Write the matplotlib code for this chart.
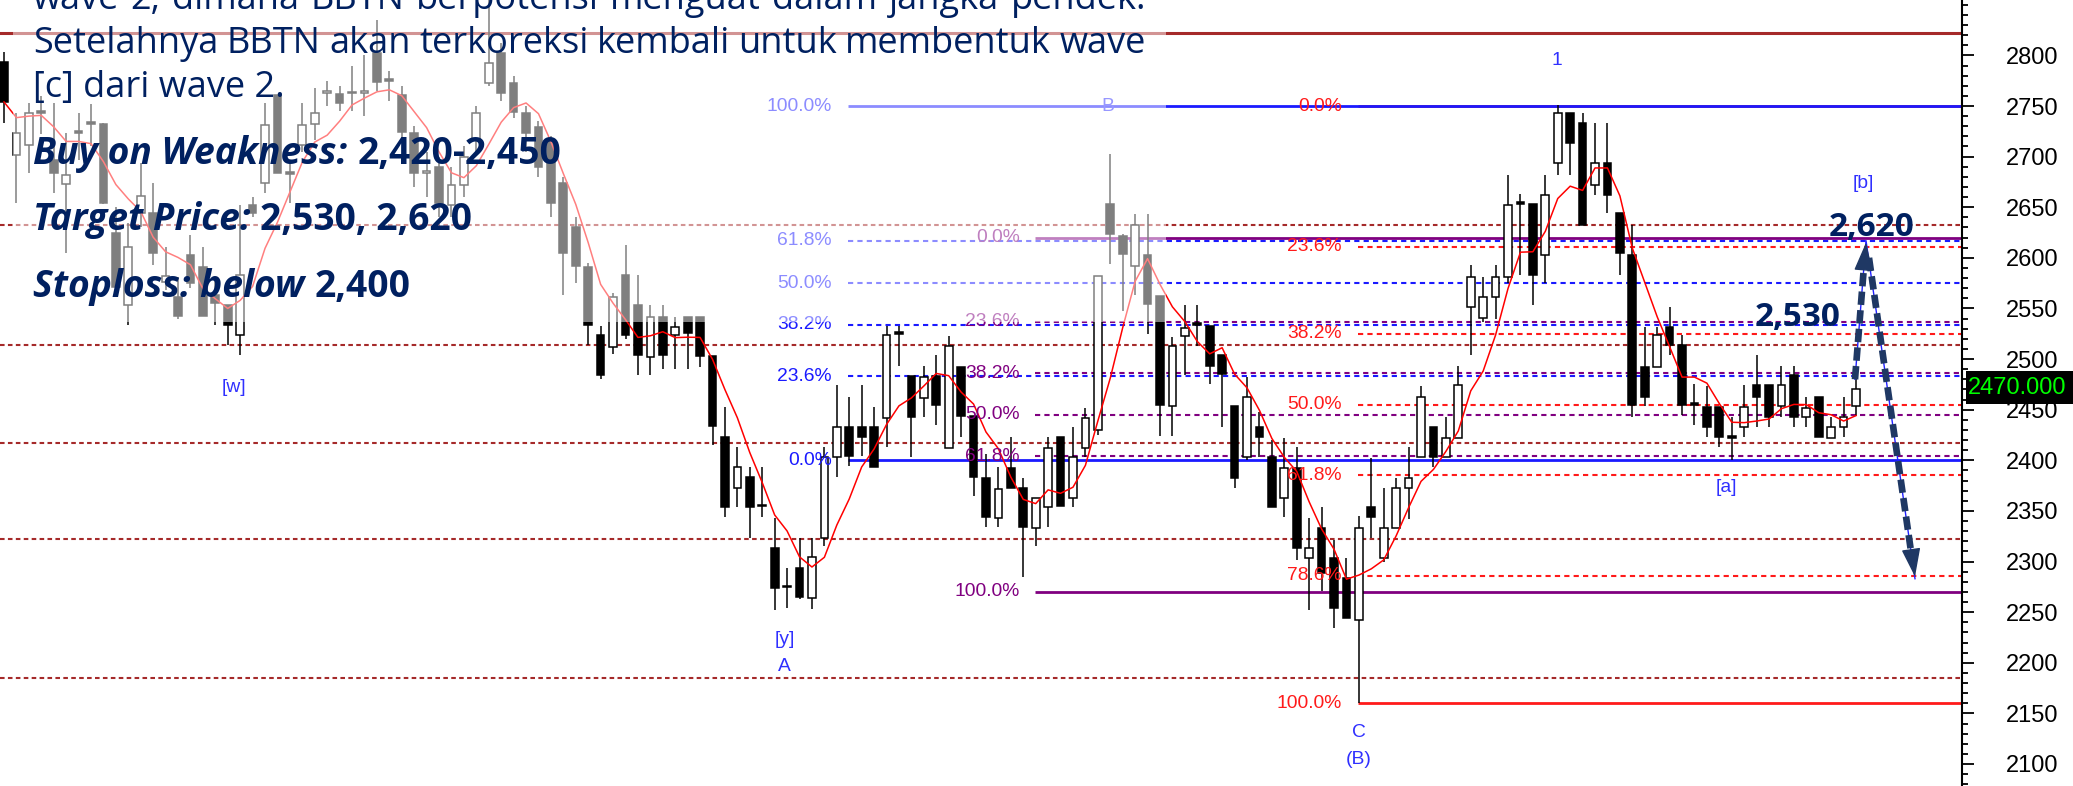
import numpy as np
import pandas as pd
import matplotlib
matplotlib.use('Agg')
import matplotlib.pyplot as plt
from matplotlib.patches import Rectangle
from matplotlib.ticker import MultipleLocator
from matplotlib import font_manager

# OHLC daily candles
opens = [2793, 2702, 2711, 2745, 2697, 2673, 2725, 2734, 2732, 2625,
         2553, 2644, 2644, 2576, 2561, 2603, 2591, 2563, 2553, 2524,
         2652, 2674, 2761, 2685, 2711, 2732, 2763, 2762, 2764, 2763,
         2802, 2777, 2761, 2723, 2684, 2690, 2652, 2672, 2716, 2773,
         2802, 2773, 2743, 2729, 2716, 2674, 2630, 2591, 2524, 2512,
         2583, 2553, 2502, 2542, 2524, 2542, 2542, 2503, 2423, 2373,
         2384, 2356, 2313, 2276, 2294, 2264, 2323, 2403, 2433, 2433,
         2433, 2442, 2527, 2483, 2462, 2483, 2412, 2492, 2444, 2383,
         2343, 2392, 2373, 2333, 2354, 2423, 2363, 2412, 2430, 2653,
         2622, 2592, 2603, 2562, 2454, 2523, 2536, 2533, 2504, 2454,
         2403, 2433, 2403, 2363, 2392, 2303, 2333, 2303, 2284, 2242,
         2354, 2303, 2333, 2373, 2403, 2433, 2403, 2422, 2551, 2541,
         2561, 2581, 2655, 2653, 2603, 2694, 2743, 2733, 2672, 2694,
         2644, 2603, 2492, 2492, 2532, 2514, 2457, 2453, 2453, 2424,
         2433, 2474, 2474, 2454, 2484, 2443, 2463, 2422, 2433, 2454]
highs = [2803, 2743, 2753, 2760, 2753, 2723, 2743, 2752, 2733, 2650,
         2634, 2694, 2674, 2611, 2581, 2623, 2611, 2581, 2553, 2652,
         2660, 2753, 2761, 2697, 2753, 2768, 2775, 2770, 2790, 2800,
         2835, 2785, 2770, 2730, 2705, 2700, 2690, 2710, 2750, 2855,
         2812, 2780, 2750, 2735, 2720, 2680, 2640, 2595, 2533, 2565,
         2613, 2583, 2553, 2553, 2542, 2542, 2542, 2503, 2453, 2413,
         2393, 2393, 2343, 2294, 2323, 2323, 2413, 2474, 2463, 2474,
         2453, 2533, 2533, 2483, 2493, 2504, 2523, 2492, 2444, 2406,
         2393, 2423, 2383, 2363, 2423, 2423, 2433, 2452, 2582, 2703,
         2624, 2643, 2643, 2562, 2522, 2553, 2553, 2533, 2504, 2454,
         2482, 2448, 2420, 2422, 2413, 2343, 2354, 2321, 2303, 2345,
         2402, 2373, 2383, 2413, 2473, 2433, 2443, 2493, 2593, 2581,
         2593, 2682, 2663, 2653, 2682, 2751, 2743, 2743, 2733, 2733,
         2644, 2632, 2532, 2532, 2551, 2524, 2475, 2473, 2453, 2443,
         2474, 2504, 2474, 2493, 2493, 2463, 2463, 2443, 2463, 2480]
lows = [2733, 2654, 2684, 2722, 2664, 2605, 2697, 2710, 2653, 2568,
        2534, 2630, 2593, 2568, 2540, 2570, 2543, 2534, 2514, 2504,
        2640, 2664, 2684, 2654, 2705, 2716, 2750, 2745, 2745, 2740,
        2765, 2755, 2715, 2670, 2660, 2640, 2640, 2660, 2705, 2770,
        2755, 2738, 2705, 2680, 2640, 2563, 2575, 2514, 2480, 2505,
        2520, 2484, 2484, 2490, 2490, 2490, 2492, 2415, 2344, 2354,
        2323, 2344, 2252, 2254, 2263, 2253, 2315, 2384, 2394, 2404,
        2393, 2413, 2493, 2403, 2443, 2435, 2412, 2423, 2365, 2334,
        2334, 2373, 2285, 2315, 2334, 2355, 2354, 2403, 2425, 2594,
        2547, 2563, 2525, 2424, 2424, 2484, 2513, 2475, 2433, 2373,
        2400, 2403, 2354, 2344, 2302, 2252, 2271, 2234, 2244, 2160,
        2323, 2300, 2333, 2342, 2403, 2393, 2403, 2422, 2504, 2537,
        2540, 2575, 2583, 2553, 2575, 2682, 2682, 2632, 2662, 2644,
        2583, 2443, 2454, 2492, 2504, 2445, 2435, 2423, 2413, 2400,
        2423, 2433, 2433, 2443, 2433, 2433, 2423, 2422, 2423, 2444]
closes = [2754, 2723, 2743, 2743, 2684, 2682, 2723, 2732, 2654, 2571,
          2611, 2661, 2605, 2582, 2543, 2575, 2543, 2555, 2534, 2583,
          2644, 2731, 2684, 2683, 2731, 2743, 2765, 2753, 2763, 2765,
          2774, 2775, 2724, 2684, 2686, 2654, 2672, 2700, 2743, 2792,
          2763, 2744, 2723, 2690, 2654, 2605, 2592, 2534, 2484, 2561,
          2524, 2504, 2542, 2504, 2532, 2526, 2503, 2434, 2354, 2393,
          2354, 2355, 2274, 2275, 2265, 2304, 2403, 2433, 2404, 2423,
          2393, 2524, 2525, 2443, 2482, 2455, 2513, 2444, 2384, 2344,
          2372, 2373, 2334, 2363, 2412, 2355, 2403, 2442, 2582, 2624,
          2604, 2632, 2554, 2455, 2513, 2531, 2534, 2493, 2485, 2383,
          2463, 2423, 2354, 2392, 2313, 2313, 2289, 2254, 2244, 2333,
          2344, 2333, 2373, 2383, 2463, 2403, 2422, 2474, 2581, 2561,
          2581, 2652, 2653, 2583, 2662, 2743, 2713, 2632, 2694, 2662,
          2605, 2455, 2463, 2524, 2514, 2455, 2455, 2433, 2423, 2422,
          2453, 2463, 2443, 2474, 2443, 2452, 2423, 2433, 2443, 2470]

# horizontal support / resistance levels
sr_levels = [2632, 2514, 2417, 2322, 2185]
top_level = 2822

# fibonacci retracements
blue_levels = [2750, 2617, 2575, 2534, 2483, 2400]
blue_labels = ['100.0%', '61.8%', '50.0%', '38.2%', '23.6%', '0.0%']
purple_levels = [2620, 2537, 2486, 2445, 2404, 2270]
purple_labels = ['0.0%', '23.6%', '38.2%', '50.0%', '61.8%', '100.0%']
red_levels = [2750, 2611, 2525, 2455, 2385, 2286, 2160]
red_labels = ['0.0%', '23.6%', '38.2%', '50.0%', '61.8%', '78.6%', '100.0%']

# wave labels: text, candle index, price
wave_labels = [('[w]', 18.5, 2472), ('[y]', 62.8, 2223), ('A', 62.8, 2196),
               ('B', 88.8, 2750), ('C', 109, 2131), ('(B)', 109, 2104),
               ('1', 124.9, 2795), ('[a]', 138.6, 2373), ('[b]', 149.6, 2673)]

last_price = '2470.000'

W, H = 2073, 786
AXIS_X = 1962

names = {f.name for f in font_manager.fontManager.ttflist}
NARROW = 'Liberation Sans Narrow' if 'Liberation Sans Narrow' in names else 'Liberation Sans'
NS = 1.0 if NARROW == 'Liberation Sans Narrow' else 0.84

NAVY = '#002060'
ARROW = '#1f3864'
DARKRED = '#a52a2a'


def px_to_i(px):
    return (px - 4) / 12.43


def py_to_p(py):
    return 2750 - (py - 106) / 1.0123


fig = plt.figure(figsize=(W / 100, H / 100), dpi=100)
ax = fig.add_axes([0, 0, AXIS_X / W, 1])
ax.set_xlim(px_to_i(0), px_to_i(AXIS_X))
ax.set_ylim(py_to_p(H), py_to_p(0))

# levels
ax.axhline(top_level, color=DARKRED, lw=2.2, zorder=1)
for lv in sr_levels:
    ax.axhline(lv, color=DARKRED, lw=1.5, ls=(0, (2.2, 1.6)), zorder=1)

x_end = px_to_i(AXIS_X)


def fib(levels, labels, color, lab_px, start_px):
    for lv, lab in zip(levels, labels):
        solid = lab in ('0.0%', '100.0%')
        ax.hlines(lv, px_to_i(start_px), x_end, colors=color,
                  lw=2.0 if solid else 1.5,
                  linestyles='-' if solid else (0, (2.5, 2.0)), zorder=1)
        ax.text(px_to_i(lab_px), lv, lab, ha='right', va='center', color=color,
                fontsize=16.5 * NS, family=NARROW, zorder=6)


fib(red_levels, red_labels, '#ff1a1a', 1342, 1358)
fib(purple_levels, purple_labels, '#800080', 1020, 1035)
fib(blue_levels, blue_labels, '#1a1aff', 832, 848)

# candles
o = np.array(opens, dtype=float)
h = np.array(highs, dtype=float)
l = np.array(lows, dtype=float)
c = np.array(closes, dtype=float)
x = np.arange(len(o))
up = c >= o
ax.vlines(x, l, h, color='black', lw=1.1, zorder=3)
bottom = np.minimum(o, c)
height = np.maximum(np.abs(c - o), 1.2)
ax.bar(x[up], height[up], bottom=bottom[up], width=0.62, facecolor='white',
       edgecolor='black', linewidth=1.1, zorder=4)
ax.bar(x[~up], height[~up], bottom=bottom[~up], width=0.62, facecolor='black',
       edgecolor='black', linewidth=1.1, zorder=4)

# moving average
ma = pd.Series(c).rolling(5, min_periods=1).mean()
ax.plot(x, ma, color='#ff0000', lw=1.1, zorder=5)

# wave labels
for txt, xi, p in wave_labels:
    ax.text(xi, p, txt, ha='center', va='center', color='#3030ff',
            fontsize=16.5 * NS, family=NARROW, zorder=6)

# projection arrows
ax.plot([px_to_i(1855), px_to_i(1866), px_to_i(1915)], [2480, 2617, 2283],
        color='#2020ff', lw=1.0, zorder=6)
ax.plot([px_to_i(1855), px_to_i(1864)], [2480, 2592], color=ARROW, lw=4.8,
        dashes=(2.0, 0.8), solid_capstyle='butt', zorder=7)
ax.annotate('', xy=(px_to_i(1866), 2615), xytext=(px_to_i(1864.5), 2598),
            arrowprops=dict(arrowstyle='-|>,head_length=0.9,head_width=0.3',
                            color=ARROW, lw=1, shrinkA=0, shrinkB=0,
                            mutation_scale=20), zorder=7)
ax.plot([px_to_i(1869), px_to_i(1911)], [2600, 2310], color=ARROW, lw=4.8,
        dashes=(2.0, 0.8), solid_capstyle='butt', zorder=7)
ax.annotate('', xy=(px_to_i(1915), 2285), xytext=(px_to_i(1912.5), 2302),
            arrowprops=dict(arrowstyle='-|>,head_length=0.9,head_width=0.3',
                            color=ARROW, lw=1, shrinkA=0, shrinkB=0,
                            mutation_scale=20), zorder=7)

ax.text(px_to_i(1872), py_to_p(227), '2,620', ha='center', va='center',
        color=NAVY, fontsize=24, fontweight='bold', family='Open Sans', zorder=8)
ax.text(px_to_i(1798), py_to_p(318), '2,530', ha='center', va='center',
        color=NAVY, fontsize=24, fontweight='bold', family='Open Sans', zorder=8)

# axis
for s in ['left', 'top', 'bottom']:
    ax.spines[s].set_visible(False)
ax.spines['right'].set_linewidth(1.5)
ax.set_xticks([])
ax.yaxis.tick_right()
ax.set_yticks(range(2100, 2801, 50))
ax.yaxis.set_minor_locator(MultipleLocator(10))
ax.tick_params(axis='y', which='major', length=8.6, width=1.3, pad=23,
               labelsize=17, direction='out')
ax.tick_params(axis='y', which='minor', length=4.3, width=1.3, direction='out')
for t in ax.get_yticklabels():
    t.set_family('Liberation Sans')

# last price box
fig.add_artist(Rectangle((1966 / W, 1 - 404 / H), 110 / W, 33 / H,
                         transform=fig.transFigure, facecolor='black',
                         edgecolor='none', zorder=4))
fig.text(1968 / W, 1 - 388 / H, last_price, color='#00ff00', va='center',
         ha='left', fontsize=17, family='Liberation Sans', zorder=5)

# translucent text box
fig.add_artist(Rectangle((13 / W, 1 - 322 / H), (1166 - 13) / W, 322 / H,
                         transform=fig.transFigure, facecolor='white',
                         alpha=0.5, edgecolor='none', zorder=1))

r = fig.canvas.get_renderer()


def put(px, py, s, size=26, **kw):
    return fig.text(px / W, 1 - py / H, s, va='baseline', ha='left',
                    color=NAVY, family='Open Sans', fontsize=size, zorder=3, **kw)


def wid(t):
    return t.get_window_extent(renderer=r).width


def justify(line, x0, x1, base):
    words = line.split()
    ts = [put(0, base, w) for w in words]
    ws = [wid(t) for t in ts]
    gap = (x1 - x0 - sum(ws)) / (len(words) - 1)
    xx = x0
    for t, w in zip(ts, ws):
        t.set_x(xx / W)
        xx += w + gap


justify('wave 2, dimana BBTN berpotensi menguat dalam jangka pendek.', 33, 1146, 9)
justify('Setelahnya BBTN akan terkoreksi kembali untuk membentuk wave', 33, 1146, 53)
put(33, 97, '[c] dari wave 2.')

rows = [(('Buy on Weakness:', '2,420-2,450'), 164),
        (('Target Price:', '2,530, 2,620'), 230),
        (('Stoploss: below', '2,400'), 297)]
for (a, b), base in rows:
    t1 = put(33, base, a, size=26.8, fontweight='bold', fontstyle='italic')
    w1 = wid(t1)
    put(33 + w1 + 10, base, b, size=26.8, fontweight='bold')

fig.savefig('out.png', dpi=100)
